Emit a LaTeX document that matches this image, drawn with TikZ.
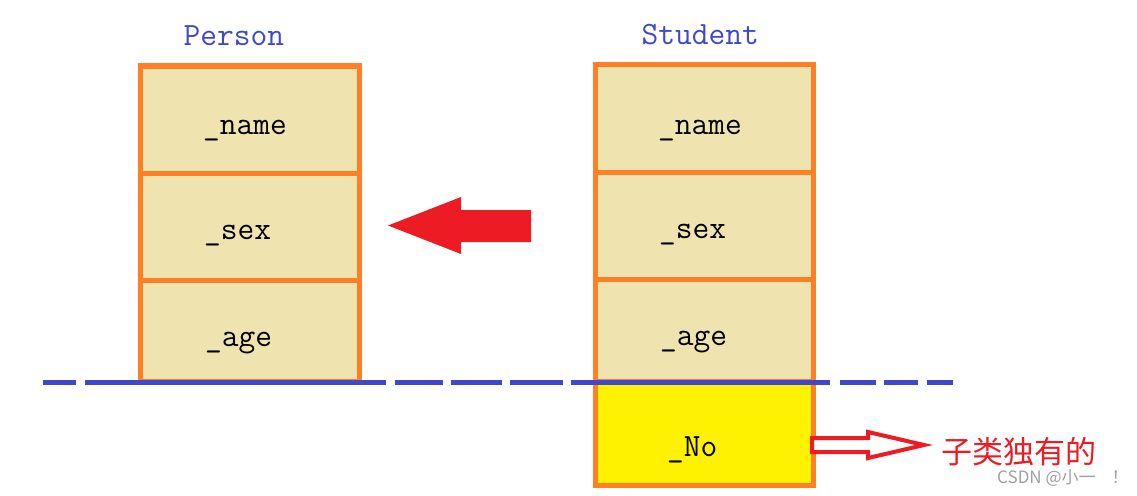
\documentclass[tikz,border=0pt]{standalone}
\usepackage{fontspec}
\newfontfamily\cjkfont{Noto Sans CJK SC}
\definecolor{borderorange}{HTML}{FF7F27}
\definecolor{celltan}{HTML}{EFE4B0}
\definecolor{cellyellow}{HTML}{FFF200}
\definecolor{titleblue}{HTML}{3F48CC}
\definecolor{arrowred}{HTML}{ED1C24}
\definecolor{markgray}{HTML}{A0A0A0}
\tikzset{
  cell/.style={draw=borderorange, line width=5pt, fill=celltan, inner sep=0pt, minimum width=219pt},
  newcell/.style={cell, fill=cellyellow},
  field/.style={anchor=base west, inner sep=0pt, font=\ttfamily\fontsize{32.5}{32.5}\selectfont},
  title/.style={field, text=titleblue},
  divline/.style={draw=titleblue, line width=5pt,
    dash pattern=on 33pt off 9pt on 301pt off 9pt on 48pt off 8pt on 51pt off 8pt on 53pt off 8pt on 259pt off 10pt on 36pt off 8pt on 34pt off 9pt on 30pt off 100pt},
  bigarrow/.style={fill=arrowred},
  hollowarrow/.style={draw=arrowred, line width=4pt, fill=white, line join=miter},
  note/.style={anchor=west, inner sep=0pt, text=arrowred, font=\cjkfont\fontsize{31}{31}\selectfont},
  wmark/.style={anchor=west, inner sep=0pt, text=markgray, font=\cjkfont\fontsize{17}{17}\selectfont}
}
\begin{document}
\begin{tikzpicture}[x=1pt,y=-1pt]
\useasboundingbox (0,0) rectangle (1137,495);
\fill[white] (0,0) rectangle (1137,495);

% Person
\node[title] (ptitle) at (183.5,46) {Person};
\node[cell, minimum height=107.5pt] (pname) at (249.5,119.75) {};
\node[cell, minimum height=106.5pt] (psex)  at (249.5,226.75) {};
\node[cell, minimum height=101.5pt] (page)  at (249.5,330.75) {};
\node[field] (pnametxt) at (203,134) {\_name};
\node[field] (psextxt)  at (204,239) {\_sex};
\node[field] (pagetxt)  at (205,346) {\_age};

% Student
\node[title] (stitle) at (641.5,45) {Student};
\node[cell, minimum width=218.5pt, minimum height=107.5pt] (sname) at (704.25,118.75) {};
\node[cell, minimum width=218.5pt, minimum height=106.5pt] (ssex)  at (704.25,225.75) {};
\node[cell, minimum width=218.5pt, minimum height=102pt]   (sage)  at (704.25,330) {};
\node[newcell, minimum width=218.5pt, minimum height=104pt] (sno)  at (704.25,433) {};
\node[field] (snametxt) at (658,134) {\_name};
\node[field] (ssextxt)  at (659,238) {\_sex};
\node[field] (sagetxt)  at (660,345) {\_age};
\node[field] (snotxt)   at (667,456) {\_No};

% inheritance arrow
\coordinate (bt) at (388,225.5);
\path[bigarrow] (bt) -- (461,197) -- (461,210) -- (531,210) -- (531,242) -- (461,242) -- (461,254) -- cycle;

% subclass-only arrow
\coordinate (ht) at (924,445);
\path[hollowarrow] (812,438) -- (868,438) -- (868,432) -- (ht) -- (868,458) -- (868,452) -- (812,452) -- cycle;
\node[note] (only) at (941,452) {子类独有的};

% divider
\coordinate (dl) at (43,382);
\coordinate (dr) at (953,382);
\draw[divline] (dl) -- (dr);

% watermark
\node[wmark] (wm) at (997,478) {CSDN @小一\hspace{16pt}！};
\end{tikzpicture}
\end{document}
